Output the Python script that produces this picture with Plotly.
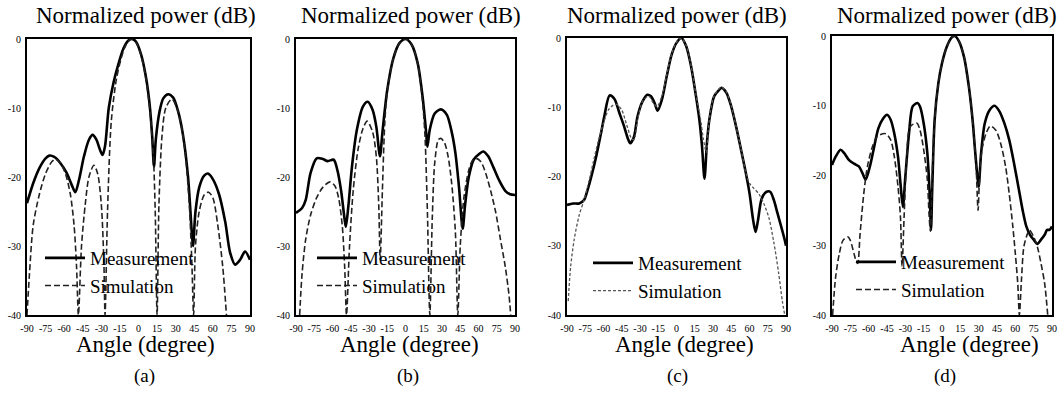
import plotly.graph_objects as go

# ---------------- data ----------------
# Panel (a)
a_meas_x = [-90, -85, -80, -75, -72, -68, -63, -58, -54, -51, -48, -44, -40, -37, -34, -31, -29, -27, -24, -20, -16, -12, -8, -5, -2, 2, 6, 9, 11, 12.5, 14, 17, 20, 24, 28, 32, 36, 40, 43, 44, 46, 49, 53, 56, 60, 65, 70, 74, 78, 82, 86, 90]
a_meas_y = [-23.8, -20.9, -18.7, -17.3, -16.9, -17.1, -18, -19.4, -21.1, -22.2, -20.4, -17, -14.6, -13.9, -14.6, -16.1, -16.8, -15.5, -10, -6.2, -3.5, -1.3, -0.2, 0, -0.4, -2.2, -5.5, -9.5, -14, -18.5, -14.5, -10.5, -8.6, -8, -8.5, -10.5, -14, -20, -28, -30, -25, -21.5, -19.8, -19.5, -20.3, -22.5, -26.5, -31, -32.7, -32, -30.8, -32]
a_sim_x = [-90, -88, -85, -80, -75, -70, -67, -63, -59, -55, -52, -50, -48.5, -46, -43, -40, -36, -33, -30, -28, -27, -25, -22, -18, -14, -10, -6, -2, 2, 6, 9, 12, 13.5, 15, 16.5, 19, 22, 27, 31, 35, 38, 41, 43, 44.5, 46, 49, 53, 56.5, 60, 64, 68, 71]
a_sim_y = [-40, -34, -27, -22.5, -19.5, -17.8, -17.4, -18, -19.5, -22.5, -27, -33, -40, -30, -24, -20, -18.3, -19.5, -24, -32, -40, -25, -12, -6, -2.8, -0.8, 0, -0.5, -2.3, -5.8, -10, -17, -25, -40, -24, -14, -10, -8.7, -10, -13, -17, -24, -32, -40, -30, -25, -22.6, -22.2, -23, -27, -33, -40]

# Panel (b)
b_meas_x = [-90, -85, -82, -78, -73, -68, -64, -59, -56, -53, -50, -49, -47, -44, -40, -35, -31, -27, -24, -21, -19, -15, -10, -5, 0, 5, 10, 14, 17, 18, 20, 24, 29, 34, 38, 41, 44, 47, 49, 52, 56, 61, 64, 68, 72, 77, 82, 86, 90]
b_meas_y = [-25.2, -24.5, -23.3, -19.4, -17.3, -17.4, -17.7, -17.5, -19, -21.9, -26.2, -27.2, -24.3, -18.5, -13.2, -9.8, -9.1, -10.3, -12.7, -17, -13.6, -7.4, -2.8, -0.6, 0, -0.8, -3.5, -8.3, -13.6, -15.6, -13.1, -10.8, -10.2, -11, -13.5, -16.5, -21.5, -27.5, -24, -20, -17.5, -16.6, -16.3, -17, -18.5, -20.5, -22, -22.5, -22.6]
b_sim_x = [-87, -85, -82, -78, -73, -68, -62, -58, -55, -52, -50, -48.5, -46, -43, -39, -35, -31.5, -27, -24, -22, -20.8, -19, -17, -15, -10, -5, 0, 5, 10, 14, 16, 18, 20, 22, 24, 27, 29, 32, 35, 38, 41, 43, 45, 48, 52, 55, 58, 62, 66, 70, 74, 78, 82, 85, 86.5]
b_sim_y = [-40, -34, -29, -25.5, -23, -21.5, -20.7, -21.3, -23, -27, -33, -40, -30, -22, -16, -13, -11.9, -13.5, -17, -24, -32, -22, -12, -7.6, -2.8, -0.6, 0, -0.8, -3.5, -9, -14, -25, -40, -26, -18, -14.6, -14.4, -15, -17, -21, -28, -40, -30, -23, -19, -17.6, -17.3, -17.8, -19.5, -22, -25, -29, -33, -37, -40]

# Panel (c)
c_meas_x = [-90, -85, -80, -76, -73, -70, -66, -62, -59, -55, -51, -47, -43, -40, -38, -35, -32, -28, -24, -21, -18, -15.5, -12, -8, -4, 0, 4, 8, 12, 16, 19, 21, 23, 25, 27, 31, 35, 37, 41, 45, 49, 53, 57, 60, 63, 65, 67, 70, 74, 77, 80, 83, 86, 89, 90]
c_meas_y = [-24.1, -23.9, -23.9, -23.4, -21.9, -20, -17.1, -13.7, -11, -8.3, -8.8, -10.8, -12.8, -14.5, -15.2, -14.3, -11.3, -9.2, -8.2, -8.4, -9.4, -10.5, -8.9, -5.5, -2.4, -0.7, 0, -1.2, -4.1, -8.4, -12.1, -15.7, -20.3, -15.2, -11.8, -8.4, -7.5, -7.2, -7.9, -9.9, -12.8, -16.1, -19.5, -22.4, -26.3, -28, -26.3, -23.2, -22.2, -22.2, -23.4, -25.3, -27.2, -29.2, -30]
c_sim_x = [-89, -87, -84, -80, -76, -72, -68, -64, -60, -56, -52, -49, -45, -41, -37, -35, -32, -28, -23, -19, -16, -12, -8, -4, 0, 4, 8, 12, 16, 20, 22, 24.5, 26, 28, 31, 37, 41, 45, 49, 53, 57, 60, 63, 68, 72, 76, 80, 84, 87, 89]
c_sim_y = [-38, -33, -29, -25.6, -23.4, -20.7, -17.6, -14.7, -12.3, -10.4, -9.7, -9.6, -10.4, -12.5, -14.5, -14.7, -11.8, -9.2, -8.4, -9.4, -9.9, -8.4, -5.3, -2.3, -0.6, 0, -1.1, -4, -8.2, -12, -14.5, -16.5, -13.5, -10.5, -8.3, -7.1, -7.8, -9.8, -12.8, -16, -19.5, -21, -21.6, -22.6, -24, -26, -29.5, -34, -38, -40]

# Panel (d)
d_meas_x = [-90, -87, -83, -80, -76, -72, -68, -65, -62.5, -59, -56, -52, -48, -45, -42, -39, -36, -34, -32, -30, -27, -24, -20, -18, -15, -12, -10, -9, -8, -6, -3, 0, 4, 8, 10.5, 14, 18, 22, 25, 27, 29, 30, 32, 35, 39, 43, 47, 51, 55, 59, 63, 66, 69, 72, 75, 78, 81, 84, 86, 88, 90]
d_meas_y = [-18.5, -17.3, -16.3, -16.8, -17.8, -18.3, -18.7, -19.7, -20.6, -18.7, -16.3, -13.2, -11.8, -11.3, -12, -14, -17.3, -21.1, -24.5, -20.2, -14, -10.1, -9.6, -10.1, -12.5, -16.8, -23, -27.8, -22, -12, -6.8, -3.9, -1.5, -0.2, 0, -0.8, -3, -7.3, -12, -16.3, -20.2, -21.6, -16.8, -12.5, -10.6, -10, -10.8, -12.5, -14.9, -18.3, -22.1, -25, -27.3, -28.5, -29.2, -29.8, -29.2, -28.5, -27.8, -27.8, -27.3]
d_sim_x = [-89.5, -87, -84, -81, -77, -75, -72, -70, -69, -67, -64, -61, -57, -53, -46, -42, -39, -36, -34, -32.7, -31, -29, -26, -20.5, -18, -15, -12, -10.5, -9.5, -8, -6, -3, 0, 4, 8, 10.5, 14, 18, 22, 26, 28, 29.5, 31, 33, 36, 39.5, 44, 48, 52, 55, 58, 60, 62, 63.3, 65, 67, 70, 71.5, 75, 78, 81, 84, 86.5]
d_sim_y = [-40, -34.5, -31.2, -29.3, -28.8, -29.3, -31.2, -32.4, -32.6, -28.3, -22.6, -18.7, -15.9, -14.4, -14, -14.9, -17.3, -21.6, -25.9, -33, -25.9, -17.8, -13, -12.5, -13.5, -16.3, -20.6, -25.9, -28, -20, -12, -6.8, -3.9, -1.5, -0.2, 0, -0.8, -3, -7.3, -14, -19, -25, -19, -16, -14, -12.9, -13.5, -15.4, -18.7, -22.6, -27.4, -31.2, -35.5, -40, -35, -30.2, -28.3, -27.8, -28.8, -30.2, -32.6, -35.5, -40]

x_tick_vals = [-90, -75, -60, -45, -30, -15, 0, 15, 30, 45, 60, 75, 90]
x_tick_text = ["-90", "-75", "-60", "-45", "-30", "-15", "0", "15", "30", "45", "60", "75", "90"]
y_tick_vals = [0, -10, -20, -30, -40]
y_tick_text = ["0", "-10", "-20", "-30", "-40"]
panel_labels = ["(a)", "(b)", "(c)", "(d)"]
series_names = ["Measurement", "Simulation"]

# ---------------- layout geometry (pixels) ----------------
W, H = 1062, 406
boxes = [  # left, right, top, bottom (px)
    (27, 250, 39, 315),
    (296, 515, 39, 315),
    (567, 786, 38, 315),
    (832, 1052, 36, 315),
]
title_cx = [146, 411, 677, 947]
xlab_cx = [145, 409, 684, 969]
plab_cx = [144, 408, 677, 945]
legend_pos = [(40, 239), (312, 239), (588, 244), (851, 243)]
SERIF = "Liberation Serif"

panels = [
    (a_meas_x, a_meas_y, a_sim_x, a_sim_y),
    (b_meas_x, b_meas_y, b_sim_x, b_sim_y),
    (c_meas_x, c_meas_y, c_sim_x, c_sim_y),
    (d_meas_x, d_meas_y, d_sim_x, d_sim_y),
]

fig = go.Figure()
layout = dict(
    width=W, height=H, margin=dict(l=0, r=0, t=0, b=0, autoexpand=False),
    paper_bgcolor="white", plot_bgcolor="white",
    showlegend=True, annotations=[],
)

for i, (mx, my, sx, sy) in enumerate(panels):
    n = "" if i == 0 else str(i + 1)
    leg = "legend" + n
    sim_line = dict(color="#222", width=1.6, dash="6px,3px")
    if i == 2:
        sim_line = dict(color="#555", width=1.3, dash="3px,2px")
    fig.add_trace(go.Scatter(x=mx, y=my, mode="lines", name=series_names[0],
                             line=dict(color="black", width=2.6, shape="spline", smoothing=0.8),
                             xaxis="x" + n, yaxis="y" + n, legend=leg))
    fig.add_trace(go.Scatter(x=sx, y=sy, mode="lines", name=series_names[1],
                             line=dict(shape="spline", smoothing=0.8, **sim_line),
                             xaxis="x" + n, yaxis="y" + n, legend=leg))
    l, r, t, b = boxes[i]
    layout["xaxis" + n] = dict(
        domain=[l / W, r / W], range=[-90, 90], anchor="y" + n, automargin=False,
        tickmode="array", tickvals=x_tick_vals, ticktext=x_tick_text,
        showgrid=False, zeroline=False, showline=True, mirror=True,
        linecolor="black", linewidth=2, ticks="", ticklabelstandoff=3,
        tickfont=dict(family=SERIF, size=10, color="black"), fixedrange=True,
    )
    layout["yaxis" + n] = dict(
        domain=[1 - b / H, 1 - t / H], range=[-40, 0], anchor="x" + n, automargin=False,
        tickmode="array", tickvals=y_tick_vals, ticktext=y_tick_text,
        showgrid=False, zeroline=False, showline=True, mirror=True,
        linecolor="black", linewidth=2, ticks="", ticklabelstandoff=2,
        tickfont=dict(family=SERIF, size=10, color="black"), fixedrange=True,
    )
    lx, ly = legend_pos[i]
    layout[leg] = dict(
        x=lx / W, y=1 - ly / H, xanchor="left", yanchor="top",
        bgcolor="rgba(0,0,0,0)", borderwidth=0,
        font=dict(family=SERIF, size=19, color="black"),
        itemwidth=40, tracegroupgap=0,
    )
    layout["annotations"] += [
        dict(text="Normalized power (dB)", x=title_cx[i] / W, y=1 - 15 / H,
             xref="paper", yref="paper", showarrow=False, xanchor="center", yanchor="middle",
             font=dict(family=SERIF, size=23, color="black")),
        dict(text="Angle (degree)", x=xlab_cx[i] / W, y=1 - 344 / H,
             xref="paper", yref="paper", showarrow=False, xanchor="center", yanchor="middle",
             font=dict(family=SERIF, size=23, color="black")),
        dict(text=panel_labels[i], x=plab_cx[i] / W, y=1 - 376 / H,
             xref="paper", yref="paper", showarrow=False, xanchor="center", yanchor="middle",
             font=dict(family=SERIF, size=19, color="black")),
    ]

fig.update_layout(**layout)
fig.write_html(
    "out.html",
    config={"displayModeBar": False, "staticPlot": True},
    post_script="document.body.style.margin='0';document.body.style.overflow='hidden';",
)
